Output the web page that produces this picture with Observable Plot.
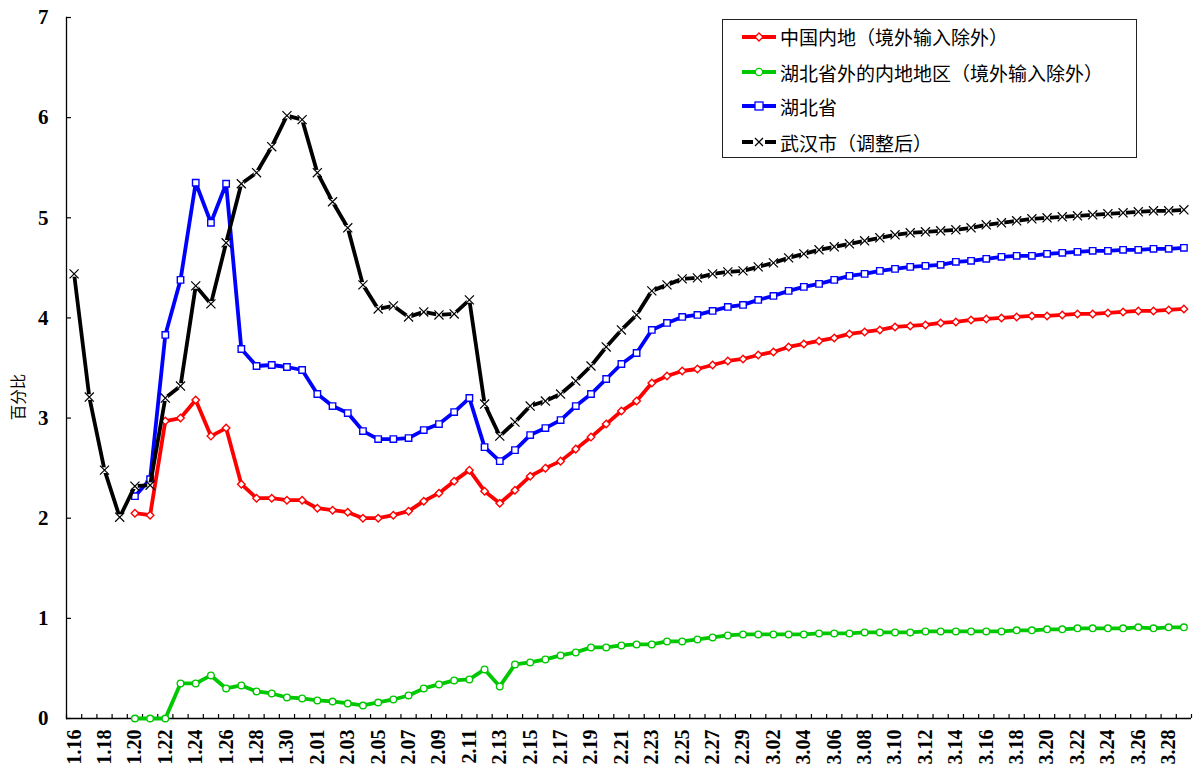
<!DOCTYPE html>
<html><head><meta charset="utf-8">
<script src="https://cdn.jsdelivr.net/npm/d3@7"></script>
<script src="https://cdn.jsdelivr.net/npm/@observablehq/plot@0.6"></script>
<style>
body{margin:0;background:#fff;}
#wrap{position:relative;width:1195px;height:771px;overflow:hidden;}
#legend{position:absolute;left:722px;top:19px;width:415px;height:139px;border:1px solid #222;box-sizing:border-box;background:#fff;font-family:"Noto Sans CJK SC","Noto Sans",sans-serif;font-size:19px;color:#000;}
.row{position:absolute;left:19px;height:26px;display:flex;align-items:center;white-space:nowrap;}
.row svg{margin-right:4px;}
</style></head><body>
<div id="wrap"><div id="chart"></div><div id="legend"></div></div>
<script>
const dates = [
"1.16","1.17","1.18","1.19","1.20","1.21","1.22","1.23","1.24","1.25","1.26","1.27","1.28","1.29","1.30","1.31",
"2.01","2.02","2.03","2.04","2.05","2.06","2.07","2.08","2.09","2.10","2.11","2.12","2.13","2.14","2.15","2.16","2.17","2.18","2.19","2.20","2.21","2.22","2.23","2.24","2.25","2.26","2.27","2.28","2.29",
"3.01","3.02","3.03","3.04","3.05","3.06","3.07","3.08","3.09","3.10","3.11","3.12","3.13","3.14","3.15","3.16","3.17","3.18","3.19","3.20","3.21","3.22","3.23","3.24","3.25","3.26","3.27","3.28","3.29"];

const tickLabels = ["1.16","1.18","1.20","1.22","1.24","1.26","1.28","1.30","2.01","2.03","2.05","2.07","2.09","2.11","2.13","2.15","2.17","2.19","2.21","2.23","2.25","2.27","2.29","3.02","3.04","3.06","3.08","3.10","3.12","3.14","3.16","3.18","3.20","3.22","3.24","3.26","3.28"];
const yTicks = [0,1,2,3,4,5,6,7];

// 中国内地（境外输入除外）
const chinaMainland = [null,null,null,null,
2.05,2.03,2.97,3.00,3.18,2.82,2.90,2.34,2.20,2.20,2.18,2.18,
2.10,2.08,2.06,2.00,2.00,2.03,2.07,2.17,2.25,2.37,2.48,2.27,2.15,2.28,2.42,2.50,2.57,2.69,2.81,2.94,3.07,3.17,3.35,3.42,3.47,3.49,3.53,3.57,3.59,
3.63,3.66,3.71,3.74,3.77,3.80,3.84,3.86,3.88,3.91,3.92,3.93,3.95,3.96,3.98,3.99,4.00,4.01,4.02,4.02,4.03,4.04,4.04,4.05,4.06,4.07,4.07,4.08,4.09];

// 湖北省外的内地地区（境外输入除外）
const outsideHubei = [null,null,null,null,
0.00,0.00,0.00,0.35,0.35,0.43,0.30,0.33,0.27,0.25,0.21,0.20,
0.18,0.17,0.15,0.13,0.16,0.19,0.23,0.30,0.34,0.38,0.39,0.49,0.32,0.54,0.56,0.59,0.63,0.66,0.71,0.71,0.73,0.74,0.74,0.77,0.77,0.79,0.81,0.83,0.84,
0.84,0.84,0.84,0.84,0.85,0.85,0.85,0.86,0.86,0.86,0.86,0.87,0.87,0.87,0.87,0.87,0.87,0.88,0.88,0.89,0.89,0.90,0.90,0.90,0.90,0.91,0.90,0.91,0.91];

// 湖北省
const hubei = [null,null,null,null,
2.22,2.39,3.83,4.38,5.35,4.95,5.34,3.69,3.52,3.53,3.51,3.48,
3.24,3.12,3.05,2.87,2.79,2.79,2.80,2.88,2.94,3.06,3.20,2.71,2.57,2.68,2.83,2.90,2.98,3.12,3.24,3.39,3.54,3.65,3.88,3.95,4.01,4.03,4.07,4.11,4.13,
4.18,4.22,4.27,4.31,4.34,4.38,4.42,4.44,4.47,4.49,4.51,4.52,4.53,4.56,4.57,4.59,4.61,4.62,4.62,4.64,4.65,4.66,4.67,4.67,4.68,4.68,4.69,4.69,4.70];

// 武汉市（调整后）
const wuhan = [4.44,3.21,2.48,2.01,
2.32,2.33,3.20,3.32,4.32,4.14,4.75,5.34,5.45,5.71,6.02,5.98,
5.45,5.16,4.90,4.33,4.09,4.12,4.01,4.06,4.03,4.04,4.18,3.14,2.82,2.96,3.12,3.17,3.24,3.37,3.52,3.71,3.88,4.03,4.27,4.33,4.39,4.40,4.44,4.46,4.47,
4.51,4.55,4.60,4.64,4.68,4.71,4.74,4.77,4.80,4.83,4.85,4.86,4.87,4.88,4.90,4.93,4.95,4.97,4.99,5.00,5.01,5.02,5.03,5.04,5.05,5.06,5.07,5.07,5.08];

const seriesNames = ["中国内地（境外输入除外）","湖北省外的内地地区（境外输入除外）","湖北省","武汉市（调整后）"];
const seriesValues = [chinaMainland, outsideHubei, hubei, wuhan];
const seriesColors = ["#ff0000","#00c800","#0000ff","#000000"];

const W = 1195, H = 771, ML = 66, MR = 4, MT = 17, MB = 53;
const plotW = W - ML - MR, plotH = H - MT - MB;
const step = plotW / dates.length;

const tables = seriesValues.map(vals => vals.map((v, i) => ({date: dates[i], value: v})));

const serif = "'Liberation Serif','Times New Roman',serif";
const marks = [];

// axis lines
marks.push(Plot.ruleY([0], {stroke: "#000", strokeWidth: 1.3}));
marks.push(Plot.frame({anchor: "left", stroke: "#000", strokeWidth: 1.3}));
// inside ticks
marks.push(Plot.tickY(yTicks, {y: d => d, insetRight: plotW - 5, stroke: "#000", strokeWidth: 1.2}));
marks.push(Plot.tickX(dates, {x: d => d, dx: -step / 2, insetTop: plotH - 4, stroke: "#000", strokeWidth: 1.2}));
marks.push(Plot.tickX([dates[dates.length - 1]], {x: d => d, dx: step / 2, insetTop: plotH - 4, stroke: "#000", strokeWidth: 1.2}));

// axes labels
marks.push(Plot.axisX(tickLabels, {tickSize: 0, tickPadding: 11, tickRotate: -90, fontSize: 20, fontWeight: "bold", fontFamily: serif, label: null, tickFormat: d => d}));
marks.push(Plot.axisY(yTicks, {tickSize: 0, tickPadding: 18, fontSize: 21, fontWeight: "bold", fontFamily: serif, label: null, tickFormat: d => String(d)}));
marks.push(Plot.text(["百分比"], {text: d => d, frameAnchor: "left", textAnchor: "middle", dx: -47, dy: 29, rotate: -90, fontSize: 15.5, fontFamily: "'Noto Sans CJK SC',sans-serif", fill: "#000"}));

// series
const lw = 3.8;
// red
marks.push(Plot.lineY(tables[0], {x: "date", y: "value", stroke: seriesColors[0], strokeWidth: lw, strokeLinejoin: "round"}));
marks.push(Plot.dot(tables[0], {x: "date", y: "value", symbol: "diamond2", r: 3.4, fill: "white", stroke: seriesColors[0], strokeWidth: 1.4}));
// green
marks.push(Plot.lineY(tables[1], {x: "date", y: "value", stroke: seriesColors[1], strokeWidth: lw, strokeLinejoin: "round"}));
marks.push(Plot.dot(tables[1], {x: "date", y: "value", symbol: "circle", r: 3.3, fill: "white", stroke: seriesColors[1], strokeWidth: 1.4}));
// blue
marks.push(Plot.lineY(tables[2], {x: "date", y: "value", stroke: seriesColors[2], strokeWidth: lw, strokeLinejoin: "round"}));
marks.push(Plot.dot(tables[2], {x: "date", y: "value", symbol: "square2", r: 4.1, fill: "white", stroke: seriesColors[2], strokeWidth: 1.4}));
// black
marks.push(Plot.lineY(tables[3], {x: "date", y: "value", stroke: seriesColors[3], strokeWidth: lw, strokeLinejoin: "round"}));
marks.push(Plot.dot(tables[3], {x: "date", y: "value", symbol: "square2", r: 3.6, fill: "white", stroke: "none"}));
marks.push(Plot.dot(tables[3], {x: "date", y: "value", symbol: "times", r: 4.2, fill: "none", stroke: seriesColors[3], strokeWidth: 1.2}));

const chart = Plot.plot({
  width: W, height: H,
  marginLeft: ML, marginRight: MR, marginTop: MT, marginBottom: MB,
  style: {fontFamily: serif, background: "#fff", color: "#000"},
  x: {type: "point", domain: dates, padding: 0.5, round: false},
  y: {domain: [0, 7]},
  marks
});
document.getElementById("chart").appendChild(chart);

// legend
const legend = document.getElementById("legend");
const swatch = (i) => {
  const c = seriesColors[i];
  let m = "";
  if (i === 0) m = `<line x1="0" y1="8" x2="34" y2="8" stroke="${c}" stroke-width="4"/><polygon points="17,4 21,8 17,12 13,8" fill="#fff" stroke="${c}" stroke-width="1.3"/>`;
  if (i === 1) m = `<line x1="0" y1="8" x2="34" y2="8" stroke="${c}" stroke-width="4"/><circle cx="17" cy="8" r="3.6" fill="#fff" stroke="${c}" stroke-width="1.3"/>`;
  if (i === 2) m = `<line x1="0" y1="8" x2="34" y2="8" stroke="${c}" stroke-width="4"/><rect x="13" y="4" width="8" height="8" fill="#fff" stroke="${c}" stroke-width="1.3"/>`;
  if (i === 3) m = `<line x1="0" y1="8" x2="11" y2="8" stroke="${c}" stroke-width="4"/><line x1="23" y1="8" x2="34" y2="8" stroke="${c}" stroke-width="4"/><path d="M13,4L21,12M13,12L21,4" stroke="${c}" stroke-width="1.2"/>`;
  return `<svg width="34" height="16" viewBox="0 0 34 16">${m}</svg>`;
};
const rowCenters = [16.5, 52, 86, 122];
seriesNames.forEach((name, i) => {
  const r = document.createElement("div");
  r.className = "row";
  r.style.top = (rowCenters[i] - 13) + "px";
  r.innerHTML = swatch(i) + `<span>${name}</span>`;
  legend.appendChild(r);
});
</script>
</body></html>
